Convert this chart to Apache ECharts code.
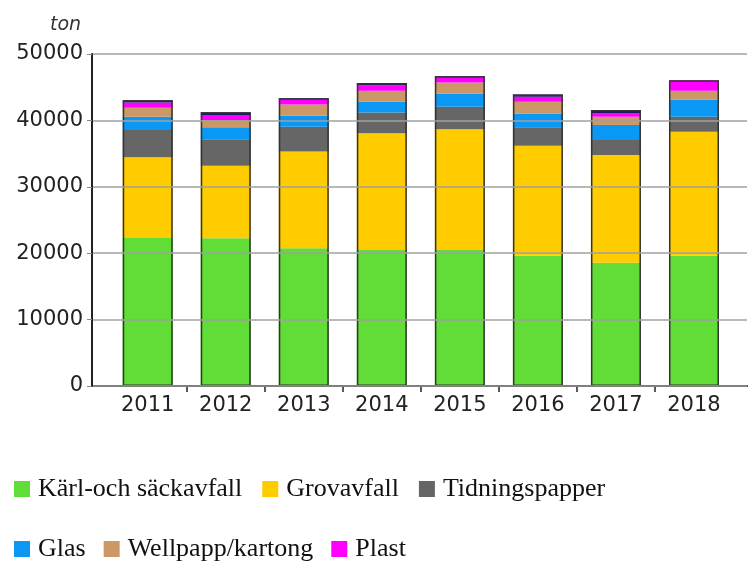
<!DOCTYPE html>
<html><head><meta charset="utf-8">
<script src="https://cdn.jsdelivr.net/npm/echarts@6/dist/echarts.min.js"></script>
<style>html,body{margin:0;padding:0;background:#fff}#c{width:755px;height:562px}</style>
</head><body><div id="c"></div>
<script>
const years = ['2011','2012','2013','2014','2015','2016','2017','2018'];
const karl = [22300,22250,20750,20500,20500,19600,18550,19600];
const grov = [12150,10930,14550,17550,18150,16600,16250,18700];
const tidning = [4100,3980,3750,3150,3400,2750,2250,2250];
const glas = [2000,1800,1650,1600,2000,2100,2250,2600];
const wellpapp = [1350,1100,1700,1650,1650,1750,1250,1300];
const plast = [800,750,750,850,750,750,500,1600];
const ovrigt = [350,400,200,350,200,350,500,0];
const yTicks = [0,10000,20000,30000,40000,50000];

const totals = years.map((_,i)=>karl[i]+grov[i]+tidning[i]+glas[i]+wellpapp[i]+plast[i]+ovrigt[i]);

const chart = echarts.init(document.getElementById('c'), null, {renderer:'canvas'});
const axisFont = {fontFamily:'DejaVu Sans', fontSize:21, color:'#222'};
function seg(name, data, color){
  return {name, type:'bar', stack:'a', data, xAxisIndex:1, yAxisIndex:1, barWidth:50,
    itemStyle:{color}, emphasis:{disabled:true}};
}
const catW = 624.3/8;
const padL = 16.7/catW, padR = 14/catW;
// tick marks between categories, in category units offset by the left padding
const boundaries = years.slice(1).map((_,i)=>i+1+padL);
chart.setOption({
  animation:false,
  title:{text:'ton', left:45, top:11, textStyle:{fontFamily:'DejaVu Sans', fontStyle:'italic', fontWeight:'normal', fontSize:19, color:'#333'}},
  grid:[
    {left:92, right:8, top:54, bottom:176},
    {left:108.7, right:22, top:54, bottom:176},
    {left:92, right:8, top:54, bottom:176}
  ],
  xAxis:[
    {type:'category', gridIndex:0, data:[''], show:true, axisLine:{show:true, lineStyle:{color:'#222', width:2}}, axisTick:{show:false}, axisLabel:{show:false}, splitLine:{show:false}},
    {type:'category', gridIndex:1, data:years, axisLine:{show:false}, axisTick:{show:false}, axisLabel:Object.assign({margin:9, interval:0}, axisFont), splitLine:{show:false}},
    {type:'value', gridIndex:2, min:0, max:8+padL+padR, show:true,
      axisLine:{show:false},
      axisTick:{show:true, length:6, customValues:boundaries, lineStyle:{color:'#222', width:1.5}},
      axisLabel:{show:false}, splitLine:{show:false}}
  ],
  yAxis:[
    {type:'value', gridIndex:0, min:0, max:50000, interval:10000, z:10, axisLine:{show:true, lineStyle:{color:'#222', width:2}}, axisTick:{show:true, length:5, lineStyle:{color:'#888'}}, axisLabel:Object.assign({margin:9, formatter:v=>String(v)}, axisFont), splitLine:{show:true, lineStyle:{color:'#a0a0a0', width:1.5}}},
    {type:'value', gridIndex:1, min:0, max:50000, interval:10000, show:false, splitLine:{show:false}},
    {type:'value', gridIndex:2, min:0, max:50000, interval:10000, show:false, splitLine:{show:false}}
  ],
  legend:[
    {data:['Kärl-och säckavfall','Grovavfall','Tidningspapper'], left:9, top:471, icon:'rect', itemWidth:16, itemHeight:16, itemGap:20,
      textStyle:{fontFamily:'Liberation Serif', fontSize:26, color:'#111', padding:[0,0,0,3]}},
    {data:['Glas','Wellpapp/kartong','Plast'], left:9, top:531, icon:'rect', itemWidth:16, itemHeight:16, itemGap:18,
      textStyle:{fontFamily:'Liberation Serif', fontSize:26, color:'#111', padding:[0,0,0,3]}}
  ],
  series:[
    seg('Kärl-och säckavfall', karl, '#62dc36'),
    seg('Grovavfall', grov, '#ffcc00'),
    seg('Tidningspapper', tidning, '#666666'),
    seg('Glas', glas, '#0b98f5'),
    seg('Wellpapp/kartong', wellpapp, '#cc9966'),
    seg('Plast', plast, '#ff00ff'),
    seg('Övrigt', ovrigt, '#1d1b5c'),
    {name:'outline', type:'bar', stack:'b', data:totals, xAxisIndex:1, yAxisIndex:1, barWidth:50, barGap:'-100%', z:5,
      itemStyle:{color:'rgba(0,0,0,0)', borderColor:'#333', borderWidth:1.5}, emphasis:{disabled:true}}
  ]
});
</script></body></html>
